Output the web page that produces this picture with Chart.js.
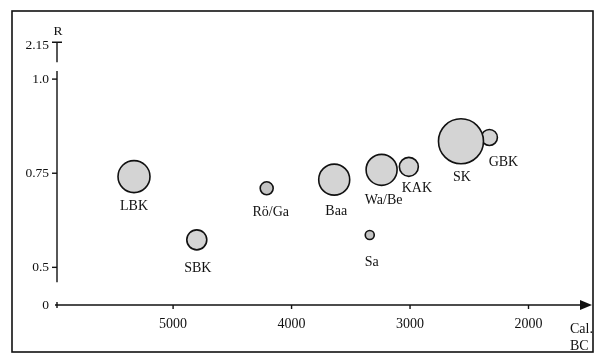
<!DOCTYPE html>
<html>
<head>
<meta charset="utf-8">
<script src="https://cdn.jsdelivr.net/npm/chart.js@4"></script>
<style>
  body { margin: 0; background: #fff; }
  canvas { display: block; }
</style>
</head>
<body>
<canvas id="chart" width="595" height="356"></canvas>
<script>
// data
const categories = ['LBK', 'SBK', 'Rö/Ga', 'Baa', 'Sa', 'Wa/Be', 'KAK', 'GBK', 'SK'];
const years = [5330, 4800, 4210, 3640, 3340, 3240, 3010, 2330, 2570];     // cal. BC
const rValues = [0.741, 0.573, 0.710, 0.733, 0.586, 0.759, 0.767, 0.845, 0.835];
const sizes = [16, 10, 6.5, 15.5, 4.5, 15.5, 9.5, 8, 22.5];

const xTicks = [5000, 4000, 3000, 2000];
// broken axis: '0' and '2.15' sit just beyond the real 0.5 - 1.0 range
const yTicks = [0.40, 0.5, 0.75, 1.0, 1.09];
const yTickLabels = ['0', '0.5', '0.75', '1.0', '2.15'];

// label offset from bubble centre [dx, dy]
const labelOffsets = [[0, 30], [1, 28], [4, 24], [2, 32], [2, 27], [2, 30], [8, 21], [14, 25], [1, 36]];

const serif = '"Liberation Serif", "DejaVu Serif", serif';
const ink = '#111';

// axes, frame and labels drawn by hand (scanned figure style)
const figurePlugin = {
  id: 'figure',
  beforeDatasetsDraw(chart) {
    const { ctx, scales: { x, y } } = chart;
    const x0 = x.getPixelForValue(5980);
    const yBase = y.getPixelForValue(0.40);
    ctx.save();
    ctx.strokeStyle = ink;
    ctx.fillStyle = ink;

    // frame
    ctx.lineWidth = 1.6;
    ctx.strokeRect(12, 11, 581, 341);

    // x axis with arrow
    ctx.lineWidth = 1.4;
    ctx.beginPath();
    ctx.moveTo(x0 - 2, yBase);
    ctx.lineTo(582, yBase);
    ctx.stroke();
    ctx.beginPath();
    ctx.moveTo(592, yBase);
    ctx.lineTo(580, yBase - 5);
    ctx.lineTo(580, yBase + 5);
    ctx.closePath();
    ctx.fill();

    ctx.font = '14px ' + serif;
    ctx.textAlign = 'center';
    ctx.textBaseline = 'middle';
    xTicks.forEach(v => {
      const px = x.getPixelForValue(v);
      ctx.beginPath();
      ctx.moveTo(px, yBase);
      ctx.lineTo(px, yBase + 4);
      ctx.stroke();
      ctx.fillText(String(v), px, yBase + 19);
    });
    ctx.textAlign = 'left';
    ctx.fillText('Cal.', 570, 329);
    ctx.fillText('BC', 570, 346);

    // y axis: short T segment at top, main segment, gap above the 0 line
    const yTop = y.getPixelForValue(1.09);
    ctx.beginPath();
    ctx.moveTo(x0 - 5, yTop - 3);
    ctx.lineTo(x0 + 5, yTop - 3);
    ctx.moveTo(x0, yTop - 3);
    ctx.lineTo(x0, yTop + 17);
    ctx.moveTo(x0, y.getPixelForValue(1.0) - 8);
    ctx.lineTo(x0, y.getPixelForValue(0.5) + 15);
    ctx.stroke();

    ctx.font = '13.5px ' + serif;
    ctx.textAlign = 'right';
    yTicks.forEach((v, i) => {
      const py = y.getPixelForValue(v);
      if (i > 0 && i < yTicks.length - 1) {
        ctx.beginPath();
        ctx.moveTo(x0 - 5, py);
        ctx.lineTo(x0, py);
        ctx.stroke();
      }
      if (i === 0) {
        ctx.beginPath();
        ctx.moveTo(x0, py - 3);
        ctx.lineTo(x0, py + 3);
        ctx.stroke();
      }
      ctx.fillText(yTickLabels[i], x0 - 8, py);
    });
    ctx.textAlign = 'center';
    ctx.fillText('R', x0 + 1, 31);
    ctx.restore();
  },
  afterDatasetsDraw(chart) {
    const { ctx } = chart;
    const meta = chart.getDatasetMeta(0);
    ctx.save();
    ctx.fillStyle = ink;
    ctx.font = '14px ' + serif;
    ctx.textAlign = 'center';
    ctx.textBaseline = 'middle';
    meta.data.forEach((pt, i) => {
      const [dx, dy] = labelOffsets[i];
      ctx.fillText(categories[i], pt.x + dx, pt.y + dy);
    });
    ctx.restore();
  }
};

const points = categories.map((c, i) => ({ x: years[i], y: rValues[i], r: sizes[i] }));

new Chart(document.getElementById('chart'), {
  type: 'bubble',
  data: {
    datasets: [{
      data: points,
      backgroundColor: sizes.map(s => s < 7 ? '#c4c4c4' : '#d4d4d4'),
      borderColor: ink,
      borderWidth: 1.6
    }]
  },
  options: {
    responsive: false,
    animation: false,
    events: [],
    layout: { autoPadding: false, padding: { left: 57, right: 3, top: 20, bottom: 51 } },
    plugins: { legend: { display: false }, tooltip: { enabled: false } },
    scales: {
      x: { type: 'linear', display: false, reverse: true, min: 1464, max: 5980 },
      y: { type: 'linear', display: false, min: 0.40, max: 1.157 }
    }
  },
  plugins: [figurePlugin]
});
</script>
</body>
</html>
